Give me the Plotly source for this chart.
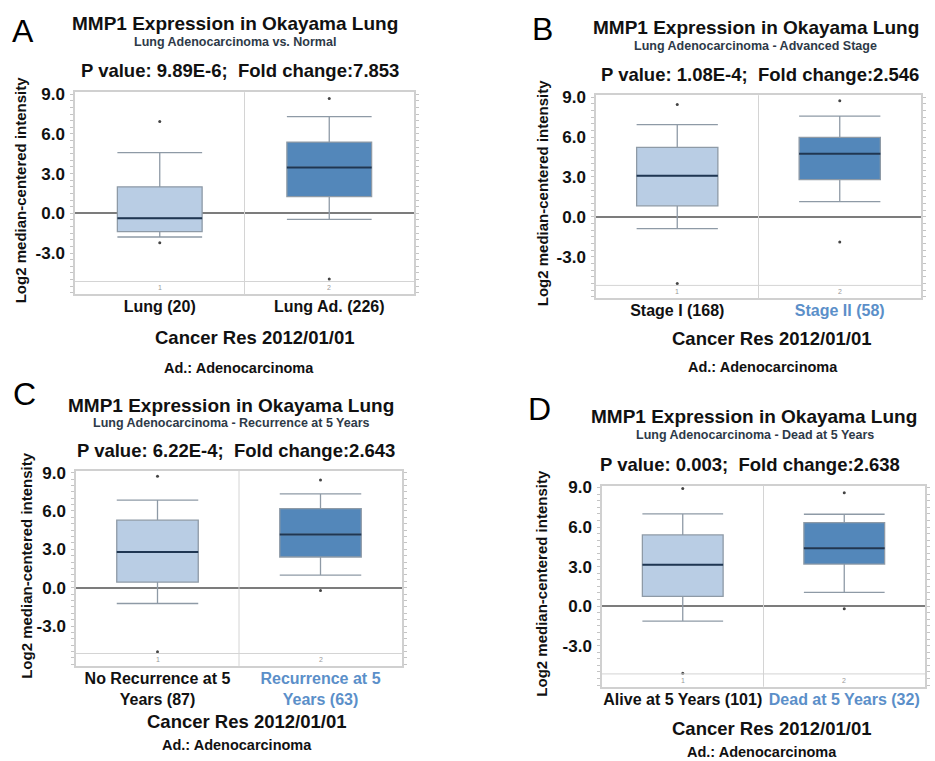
import plotly.graph_objects as go

# ---------------- data ----------------
panel_letters = ["A", "B", "C", "D"]
titles = ["MMP1 Expression in Okayama Lung"] * 4
subtitles = [
    "Lung Adenocarcinoma vs. Normal",
    "Lung Adenocarcinoma - Advanced Stage",
    "Lung Adenocarcinoma - Recurrence at 5 Years",
    "Lung Adenocarcinoma - Dead at 5 Years",
]
p_values = ["9.89E-6", "1.08E-4", "6.22E-4", "0.003"]
fold_changes = ["7.853", "2.546", "2.643", "2.638"]
categories = [
    ["Lung (20)", "Lung Ad. (226)"],
    ["Stage I (168)", "Stage II (58)"],
    ["No Recurrence at 5<br>Years (87)", "Recurrence at 5<br>Years (63)"],
    ["Alive at 5 Years (101)", "Dead at 5 Years (32)"],
]
second_label_blue = [False, True, True, True]
source_text = "Cancer Res 2012/01/01"
note_text = "Ad.: Adenocarcinoma"
y_title = "Log2 median-centered intensity"
y_ticks = [-3.0, 0.0, 3.0, 6.0, 9.0]

lower_fence = [[-1.79, -0.45], [-0.88, 1.15], [-1.24, 0.98], [-1.14, 1.04]]
q1 = [[-1.39, 1.26], [0.83, 2.80], [0.44, 2.40], [0.74, 3.19]]
median = [[-0.37, 3.47], [3.10, 4.75], [2.79, 4.16], [3.14, 4.39]]
q3 = [[2.00, 5.38], [5.23, 5.98], [5.28, 6.18], [5.40, 6.34]]
upper_fence = [[4.58, 7.31], [6.93, 7.58], [6.85, 7.34], [7.00, 6.97]]
outlier_high = [[6.94, 8.68], [8.45, 8.73], [8.72, 8.43], [8.92, 8.60]]
outlier_low = [[-2.23, -4.96], [-5.00, -1.88], [-5.02, -0.23], [-5.10, -0.20]]

# ---------------- layout / style ----------------
W, H = 935, 761
# plot area in pixels: left, right, top, bottom
plot_px = [(75, 414, 86, 290), (596, 921, 89, 294), (76, 402, 468, 665), (602, 925, 483, 686)]
y_range = [-6.12, 9.15]
sep_level = -5.15
letter_px = [(23, 24), (542, 22), (24, 391), (539, 406)]
title_px = [(235, 17), (756, 21), (231, 402), (754, 413)]
subtitle_px = [(235, 35), (755, 39), (231, 420), (755, 432)]
pval_px = [(240, 64), (760, 68), (236, 448), (750, 462)]
source_px = [(255, 334), (772, 335), (247, 721), (772, 728)]
note_px = [(239, 364), (763, 363), (237, 745), (762, 752)]
ytitle_px = [(20, 185), (542, 188), (27, 564), (542, 582)]

FONT = "Arial, 'Liberation Sans', sans-serif"
LIGHT = "#b9cde4"
DARK = "#5387ba"
BOX_LINE = "#8e9aa6"
MED_LINE = "#1f3652"
BLUE_TXT = "#5b8fc9"
FRAME = "#d0d0d0"


def px(x):
    return x / W


def py(y):
    return 1 - y / H


fig = go.Figure()
annotations = []
shapes = []
layout_axes = {}

for i in range(4):
    sfx = "" if i == 0 else str(i + 1)
    xa, ya = "x" + sfx, "y" + sfx
    l, r, t, b = plot_px[i]
    fills = [LIGHT, DARK]
    for j in range(2):
        fig.add_trace(go.Box(
            x=[j], q1=[q1[i][j]], median=[median[i][j]], q3=[q3[i][j]],
            lowerfence=[lower_fence[i][j]], upperfence=[upper_fence[i][j]],
            width=0.5, whiskerwidth=1, fillcolor=fills[j],
            line=dict(color=BOX_LINE, width=1.3), boxpoints=False,
            xaxis=xa, yaxis=ya, showlegend=False, hoverinfo="skip",
        ))
        # median line drawn darker on top
        fig.add_trace(go.Box(
            x=[j], q1=[median[i][j]], median=[median[i][j]], q3=[median[i][j]],
            lowerfence=[median[i][j]], upperfence=[median[i][j]],
            width=0.5, whiskerwidth=1, fillcolor="rgba(0,0,0,0)",
            line=dict(color=MED_LINE, width=2), boxpoints=False,
            xaxis=xa, yaxis=ya, showlegend=False, hoverinfo="skip",
        ))
    fig.add_trace(go.Scatter(
        x=[0, 1, 0, 1],
        y=outlier_high[i] + outlier_low[i],
        mode="markers", marker=dict(size=3, color="#444444"),
        xaxis=xa, yaxis=ya, showlegend=False, hoverinfo="skip",
    ))

    cats = list(categories[i])
    if second_label_blue[i]:
        cats[1] = cats[1].replace("<br>", f"</span><br><span style='color:{BLUE_TXT}'>")
        cats[1] = f"<span style='color:{BLUE_TXT}'>" + cats[1] + "</span>"

    layout_axes["xaxis" + sfx] = dict(
        domain=[px(l), px(r)], anchor=ya, range=[-0.5, 1.5],
        tickvals=[0, 1], ticktext=cats, ticks="", showgrid=False, zeroline=False,
        showline=True, linecolor=FRAME, linewidth=1.5, mirror=True,
        tickfont=dict(family=FONT, size=16, color="#111111", weight="bold"),
        ticklabelstandoff=-3, fixedrange=True,
    )
    layout_axes["yaxis" + sfx] = dict(
        domain=[py(b), py(t)], anchor=xa, range=y_range,
        tickvals=y_ticks, ticktext=[f"{v:.1f}" for v in y_ticks],
        ticks="outside", ticklen=3, tickcolor="#c4c4c4", tickwidth=1,
        minor=dict(dtick=0.5, tick0=0, ticks="outside", ticklen=3, tickcolor="#c4c4c4"),
        showgrid=False, zeroline=True, zerolinecolor="#7c7c7c", zerolinewidth=1.5,
        showline=True, linecolor=FRAME, linewidth=1.5, mirror="ticks",
        tickfont=dict(family=FONT, size=17, color="#111111", weight="bold"),
        ticklabelstandoff=2, fixedrange=True,
    )

    # vertical category separator and bottom separator line
    shapes.append(dict(type="line", xref=xa, yref=ya + " domain", x0=0.5, x1=0.5, y0=0, y1=1,
                       line=dict(color="#d4d4d4", width=1)))
    shapes.append(dict(type="line", xref=xa + " domain", yref=ya, x0=0, x1=1,
                       y0=sep_level, y1=sep_level, line=dict(color="#d4d4d4", width=1)))
    for j in range(2):
        annotations.append(dict(x=j, y=(sep_level + y_range[0]) / 2, xref=xa, yref=ya,
                                text=str(j + 1), showarrow=False,
                                font=dict(family=FONT, size=7, color="#999999")))

    def add_text(pos, text, size, weight="bold", color="#111111", angle=0):
        annotations.append(dict(x=px(pos[0]), y=py(pos[1]), xref="paper", yref="paper",
                                text=text, showarrow=False, textangle=angle,
                                xanchor="center", yanchor="middle",
                                font=dict(family=FONT, size=size, color=color, weight=weight)))

    add_text(letter_px[i], panel_letters[i], 32, weight="normal", color="#000000")
    add_text(title_px[i], titles[i], 19)
    add_text(subtitle_px[i], subtitles[i], 12.5, color="#2e3a48")
    add_text(pval_px[i], f"P value: {p_values[i]};\u00a0 Fold change:{fold_changes[i]}", 18.5)
    add_text(source_px[i], source_text, 18.5)
    add_text(note_px[i], note_text, 14.5)
    add_text(ytitle_px[i], y_title, 15, angle=-90)

fig.update_layout(
    width=W, height=H, margin=dict(l=0, r=0, t=0, b=0),
    paper_bgcolor="white", plot_bgcolor="white",
    showlegend=False, annotations=annotations, shapes=shapes,
    **layout_axes,
)

fig.write_html("out.html")
